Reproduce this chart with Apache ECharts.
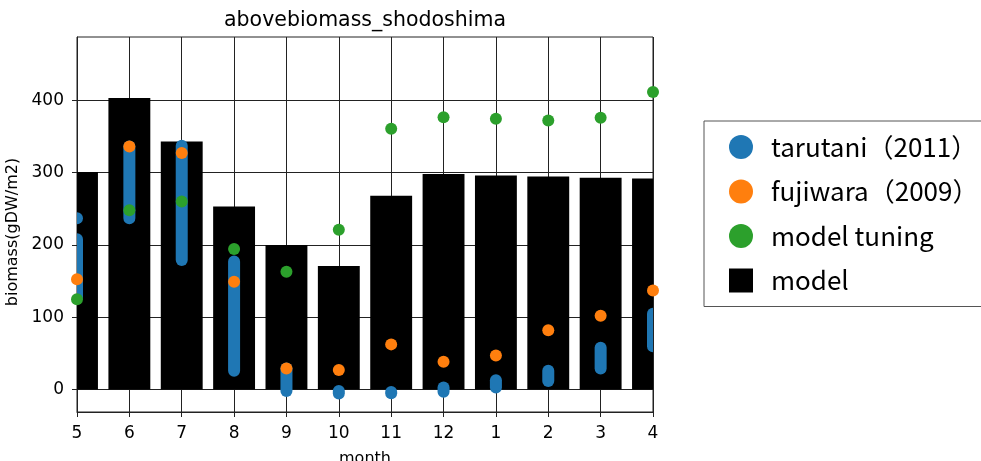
<!DOCTYPE html>
<html>
<head>
<meta charset="utf-8">
<title>abovebiomass_shodoshima</title>
<script src="https://cdn.jsdelivr.net/npm/echarts@6/dist/echarts.min.js"></script>
<style>
  html, body { margin: 0; padding: 0; background: #fff; }
  #chart { width: 981px; height: 461px; }
</style>
</head>
<body>
<div id="chart"></div>
<script>
// Months along the x axis (May through April)
const months = ['5', '6', '7', '8', '9', '10', '11', '12', '1', '2', '3', '4'];

// Simulated above-ground biomass (gDW/m2)
const modelValues = [301, 403, 343, 253, 200, 171, 268, 298, 296, 294.5, 293, 292];

// Tuning targets
const tuningValues = [125, 248, 260, 194.5, 163, 221, 360.5, 376.5, 374.5, 372, 376, 411.5];

// Observations, fujiwara (2009)
const fujiwaraValues = [152.5, 336, 327, 149, 29, 27, 62.5, 38.5, 47, 82, 102, 137];

// Observations, tarutani (2011): observed spread per month (index into months, low, high)
const tarutaniMonth = [0, 0, 1, 2, 3, 4, 5, 6, 7, 8, 9, 10, 11];
const tarutaniLow   = [128, 237, 237, 179, 26, -2, -5.5, -5, -3, 3, 12, 29, 60];
const tarutaniHigh  = [208, 237, 336, 337, 177, 29, -2, -3.5, 3, 13, 26, 58, 105];

// y-axis tick values
const yTicks = [0, 100, 200, 300, 400];

const names = ['tarutani（2011）', 'fujiwara（2009）', 'model tuning', 'model'];
const colors = { blue: '#1f77b4', orange: '#ff7f0e', green: '#2ca02c', bar: '#000000' };

const tarutaniData = tarutaniMonth.map((m, i) => [m, tarutaniLow[i], tarutaniHigh[i]]);
const modelData = modelValues.map((v, i) => [i, v]);

const chart = echarts.init(document.getElementById('chart'), null, { renderer: 'canvas' });

const tickFont = { fontFamily: 'DejaVu Sans', fontSize: 17, color: '#000' };
const nameFont = { fontFamily: 'DejaVu Sans', fontSize: 16, color: '#000' };
const gridLine = { show: true, lineStyle: { color: '#222', width: 1, type: 'solid' } };

chart.setOption({
  animation: false,
  backgroundColor: '#fff',
  title: {
    text: 'abovebiomass_shodoshima',
    left: 365,
    top: 10,
    padding: 0,
    textAlign: 'center',
    textStyle: { fontFamily: 'DejaVu Sans', fontSize: 20.5, fontWeight: 'normal', color: '#000' }
  },
  grid: {
    left: 77, top: 37, width: 576, height: 375,
    show: true, borderColor: '#222', borderWidth: 1, backgroundColor: 'transparent',
    containLabel: false,
    outerBoundsMode: 'none'
  },
  legend: {
    orient: 'vertical',
    left: 704,
    top: 121,
    padding: [13, 60, 13, 25],
    itemGap: 18.5,
    itemWidth: 24,
    itemHeight: 24,
    borderColor: '#555',
    borderWidth: 1,
    borderRadius: 0,
    backgroundColor: '#fff',
    data: [
      { name: names[0], icon: 'circle' },
      { name: names[1], icon: 'circle' },
      { name: names[2], icon: 'circle' },
      { name: names[3], icon: 'rect' }
    ],
    formatter: n => '{t|' + n + '}',
    textStyle: {
      rich: {
        t: {
          fontFamily: 'Noto Sans CJK JP',
          fontSize: 26,
          lineHeight: 26,
          color: '#000',
          padding: [0, 0, 0, 13]
        }
      }
    }
  },
  xAxis: {
    type: 'category',
    data: months,
    boundaryGap: false,
    name: 'month',
    nameLocation: 'middle',
    nameGap: 39,
    nameTextStyle: nameFont,
    axisLine: { show: true, onZero: false, lineStyle: { color: '#222', width: 1 } },
    axisTick: { show: true, inside: false, length: 5, alignWithLabel: true, lineStyle: { color: '#222' } },
    axisLabel: { ...tickFont, margin: 13 },
    splitLine: gridLine
  },
  yAxis: {
    type: 'value',
    min: -31,
    max: 487.5,
    name: 'biomass(gDW/m2)',
    nameLocation: 'middle',
    nameGap: 50,
    nameTextStyle: { ...nameFont, padding: [0, 15, 0, 0] },
    axisLine: { show: true, lineStyle: { color: '#222', width: 1 } },
    axisTick: { show: true, inside: false, length: 5, customValues: yTicks, lineStyle: { color: '#222' } },
    axisLabel: { ...tickFont, margin: 13, customValues: yTicks },
    splitLine: gridLine
  },
  series: [
    {
      // model bars, 0.8 of a month wide, clipped at the plot edges
      name: names[3],
      type: 'custom',
      data: modelData,
      encode: { x: 0, y: 1 },
      itemStyle: { color: colors.bar },
      clip: true,
      z: 2,
      renderItem: function (params, api) {
        const x = api.value(0);
        const top = api.coord([x, api.value(1)]);
        const base = api.coord([x, 0]);
        const w = api.size([1, 0])[0] * 0.8;
        return {
          type: 'rect',
          shape: { x: top[0] - w / 2, y: top[1], width: w, height: base[1] - top[1] },
          style: { fill: colors.bar }
        };
      }
    },
    {
      name: names[0],
      type: 'custom',
      data: tarutaniData,
      encode: { x: 0, y: [1, 2] },
      itemStyle: { color: colors.blue },
      clip: true,
      z: 3,
      renderItem: function (params, api) {
        const x = api.value(0);
        const hi = api.coord([x, api.value(2)]);
        const lo = api.coord([x, api.value(1)]);
        const w = 12;
        return {
          type: 'rect',
          shape: { x: hi[0] - w / 2, y: hi[1] - w / 2, width: w, height: lo[1] - hi[1] + w, r: w / 2 },
          style: { fill: colors.blue }
        };
      }
    },
    {
      name: names[1],
      type: 'scatter',
      data: fujiwaraValues,
      symbol: 'circle',
      symbolSize: 12,
      itemStyle: { color: colors.orange, opacity: 1 },
      clip: true,
      z: 4
    },
    {
      name: names[2],
      type: 'scatter',
      data: tuningValues,
      symbol: 'circle',
      symbolSize: 12,
      itemStyle: { color: colors.green, opacity: 1 },
      clip: true,
      z: 5
    }
  ]
});
</script>
</body>
</html>
